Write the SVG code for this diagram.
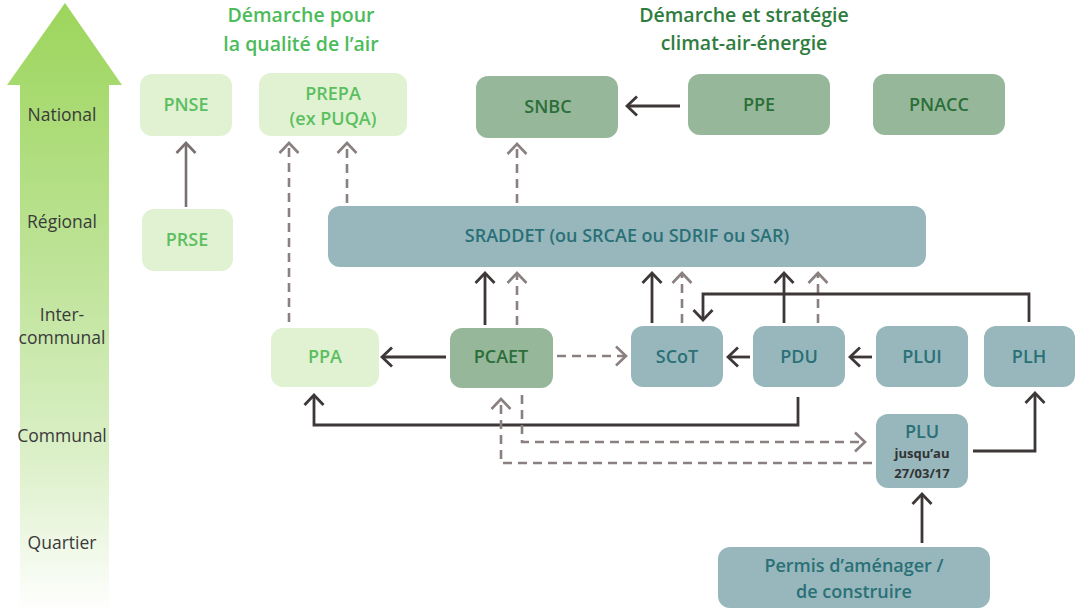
<svg xmlns="http://www.w3.org/2000/svg" width="1082" height="614" viewBox="0 0 1082 614">
<style>
.lvl{font-family:"Open Sans","Liberation Sans",sans-serif;font-size:17.5px;fill:#3a3a3a;text-anchor:middle}
.hd{font-family:"Open Sans","Liberation Sans",sans-serif;font-size:19.5px;font-weight:600;text-anchor:middle}
.nt{font-family:"Open Sans","Liberation Sans",sans-serif;font-size:18px;font-weight:600;text-anchor:middle}
.lg rect{fill:#e1f2d3}
.lg text{fill:#5bbf60}
.mg rect{fill:#97b79b}
.mg text{fill:#2b6e38}
.tl rect{fill:#97b7bc}
.tl text{fill:#2a7077}
.tl text.sm{font-family:"Open Sans","Liberation Sans",sans-serif;font-size:13px;font-weight:700;text-anchor:middle;fill:#333333}
.sd{fill:none;stroke:#3e3737;stroke-width:2.8}
.sg{fill:none;stroke:#7b7070;stroke-width:2.6}
.dg{fill:none;stroke:#8b8080;stroke-width:2.6;stroke-dasharray:9,6}
</style>
<defs>
<linearGradient id="ga" x1="0" y1="0" x2="0" y2="614" gradientUnits="userSpaceOnUse">
<stop offset="0" stop-color="#9cd55b"/>
<stop offset="0.45" stop-color="#bfe49a"/>
<stop offset="0.75" stop-color="#dcf0c9"/>
<stop offset="1" stop-color="#ffffff"/>
</linearGradient>
<marker id="ad" viewBox="0 0 14 22" refX="12" refY="11" markerWidth="14" markerHeight="22" markerUnits="userSpaceOnUse" orient="auto">
<path d="M2,1.5 L12,11 L2,20.5" fill="none" stroke="#3e3737" stroke-width="2.8"/>
</marker>
<marker id="ag" viewBox="0 0 14 22" refX="12" refY="11" markerWidth="14" markerHeight="22" markerUnits="userSpaceOnUse" orient="auto">
<path d="M2,1.5 L12,11 L2,20.5" fill="none" stroke="#8b8080" stroke-width="2.6"/>
</marker>
<marker id="as" viewBox="0 0 14 22" refX="12" refY="11" markerWidth="14" markerHeight="22" markerUnits="userSpaceOnUse" orient="auto">
<path d="M2,1.5 L12,11 L2,20.5" fill="none" stroke="#7b7070" stroke-width="2.6"/>
</marker>
</defs>
<rect width="1082" height="614" fill="#ffffff"/>

<g id="scale">
<path d="M65,3 L122,85 L109,85 L109,614 L20,614 L20,85 L7,85 Z" fill="url(#ga)"/>
<text class="lvl" x="62" y="121">National</text>
<text class="lvl" x="62" y="228">Régional</text>
<text class="lvl" x="62" y="321">Inter-</text>
<text class="lvl" x="62" y="344">communal</text>
<text class="lvl" x="62" y="442">Communal</text>
<text class="lvl" x="62" y="549">Quartier</text>
</g>

<g id="headers">
<text class="hd" x="301" y="22" fill="#4cbb5a">Démarche pour</text>
<text class="hd" x="301" y="51" fill="#4cbb5a">la qualité de l’air</text>
<text class="hd" x="744" y="22" fill="#2e7d3e">Démarche et stratégie</text>
<text class="hd" x="744" y="50" fill="#2e7d3e">climat-air-énergie</text>
</g>

<g id="connectors">
<line class="sg" x1="186" y1="207" x2="186" y2="143" marker-end="url(#as)"/>
<line class="dg" x1="289" y1="322" x2="289" y2="143" marker-end="url(#ag)"/>
<line class="dg" x1="347" y1="203" x2="347" y2="143" marker-end="url(#ag)"/>
<line class="dg" x1="517" y1="203" x2="517" y2="144" marker-end="url(#ag)"/>
<line class="sd" x1="680" y1="106" x2="627" y2="106" marker-end="url(#ad)"/>
<line class="sd" x1="485" y1="325" x2="485" y2="273" marker-end="url(#ad)"/>
<line class="dg" x1="517" y1="325" x2="517" y2="273" marker-end="url(#ag)"/>
<line class="sd" x1="652" y1="323" x2="652" y2="273" marker-end="url(#ad)"/>
<line class="dg" x1="682" y1="323" x2="682" y2="273" marker-end="url(#ag)"/>
<line class="sd" x1="784" y1="323" x2="784" y2="273" marker-end="url(#ad)"/>
<line class="dg" x1="818" y1="323" x2="818" y2="273" marker-end="url(#ag)"/>
<path class="sd" d="M1029,322 L1029,294 L703,294 L703,320" marker-end="url(#ad)"/>
<line class="sd" x1="446" y1="357" x2="382" y2="357" marker-end="url(#ad)"/>
<line class="dg" x1="557" y1="356" x2="626" y2="356" marker-end="url(#ag)"/>
<line class="sd" x1="750" y1="357" x2="728" y2="357" marker-end="url(#ad)"/>
<line class="sd" x1="872" y1="357" x2="850" y2="357" marker-end="url(#ad)"/>
<path class="sd" d="M798,397 L798,425 L314,425 L314,395" marker-end="url(#ad)"/>
<path class="dg" d="M522,395 L522,442 L865,442" marker-end="url(#ag)"/>
<path class="dg" d="M872,463 L501,463 L501,399" marker-end="url(#ag)"/>
<path class="sd" d="M973,451 L1035,451 L1035,393" marker-end="url(#ad)"/>
<line class="sd" x1="922" y1="543" x2="922" y2="494" marker-end="url(#ad)"/>
</g>

<g id="PNSE" class="lg"><rect x="140" y="74" width="92" height="62" rx="12"/><text class="nt" x="186" y="111">PNSE</text></g>
<g id="PREPA" class="lg"><rect x="259" y="73" width="148" height="63" rx="12"/><text class="nt" x="333" y="100">PREPA</text><text class="nt" x="333" y="125">(ex PUQA)</text></g>
<g id="PRSE" class="lg"><rect x="142" y="209" width="91" height="62" rx="12"/><text class="nt" x="187" y="246">PRSE</text></g>
<g id="SNBC" class="mg"><rect x="476" y="76" width="142" height="62" rx="12"/><text class="nt" x="548" y="113">SNBC</text></g>
<g id="PPE" class="mg"><rect x="688" y="74" width="142" height="61" rx="12"/><text class="nt" x="759" y="111">PPE</text></g>
<g id="PNACC" class="mg"><rect x="873" y="74" width="132" height="61" rx="12"/><text class="nt" x="939" y="111">PNACC</text></g>
<g id="SRADDET" class="tl"><rect x="328" y="206" width="598" height="61" rx="12"/><text class="nt" x="627" y="242">SRADDET (ou SRCAE ou SDRIF ou SAR)</text></g>
<g id="PPA" class="lg"><rect x="271" y="328" width="108" height="59" rx="12"/><text class="nt" x="325" y="363">PPA</text></g>
<g id="PCAET" class="mg"><rect x="450" y="328" width="103" height="60" rx="12"/><text class="nt" x="501" y="363">PCAET</text></g>
<g id="SCoT" class="tl"><rect x="631" y="326" width="92" height="61" rx="12"/><text class="nt" x="677" y="363">SCoT</text></g>
<g id="PDU" class="tl"><rect x="753" y="326" width="92" height="61" rx="12"/><text class="nt" x="799" y="363">PDU</text></g>
<g id="PLUI" class="tl"><rect x="876" y="326" width="92" height="61" rx="12"/><text class="nt" x="922" y="363">PLUI</text></g>
<g id="PLH" class="tl"><rect x="984" y="326" width="91" height="61" rx="12"/><text class="nt" x="1029" y="363">PLH</text></g>
<g id="PLU" class="tl"><rect x="876" y="414" width="92" height="74" rx="12"/><text class="nt" x="922" y="438">PLU</text><text class="sm" x="922" y="458">jusqu’au</text><text class="sm" x="922" y="478">27/03/17</text></g>
<g id="Permis" class="tl"><rect x="718" y="547" width="272" height="61" rx="12"/><text class="nt" x="854" y="572">Permis d’aménager /</text><text class="nt" x="854" y="598">de construire</text></g>
</svg>
